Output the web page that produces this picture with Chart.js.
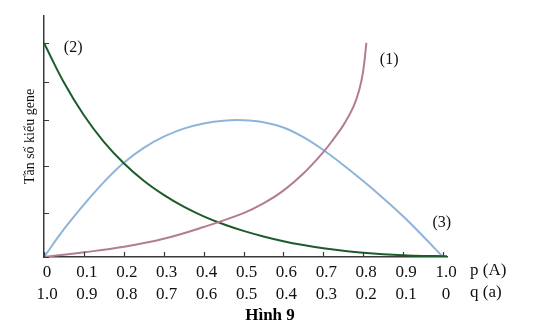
<!DOCTYPE html>
<html>
<head>
<meta charset="utf-8">
<script src="https://cdn.jsdelivr.net/npm/chart.js@4.4.1/dist/chart.umd.min.js"></script>
<style>
  html, body { margin: 0; padding: 0; background: #fff; }
  #wrap { width: 541px; height: 332px; }
</style>
</head>
<body>
<div id="wrap"><canvas id="c" width="541" height="332"></canvas></div>
<script>
// Allele frequency p (A) along x; genotype frequency along y
const pTicks = [0, 0.1, 0.2, 0.3, 0.4, 0.5, 0.6, 0.7, 0.8, 0.9, 1.0];
const pLabels = ['0', '0.1', '0.2', '0.3', '0.4', '0.5', '0.6', '0.7', '0.8', '0.9', '1.0'];
const qLabels = ['1.0', '0.9', '0.8', '0.7', '0.6', '0.5', '0.4', '0.3', '0.2', '0.1', '0'];
const yTicks = [0, 0.206, 0.425, 0.64, 0.818, 1.0];

// (1) rising curve
const pCurve1 = [0, 0.1, 0.2, 0.3, 0.4, 0.5, 0.55, 0.6, 0.65, 0.7, 0.725, 0.75, 0.775, 0.79, 0.8, 0.808];
const vCurve1 = [0, 0.022, 0.048, 0.085, 0.14, 0.205, 0.25, 0.31, 0.39, 0.49, 0.55, 0.615, 0.70, 0.78, 0.87, 1.0];

// (2) falling curve
const pCurve2 = [0, 0.05, 0.1, 0.15, 0.2, 0.25, 0.3, 0.35, 0.4, 0.45, 0.5, 0.55, 0.6, 0.65, 0.7, 0.75, 0.8, 0.85, 0.9, 0.95, 1.0, 1.01];
const vCurve2 = [1.0, 0.815, 0.662, 0.538, 0.438, 0.356, 0.29, 0.235, 0.19, 0.153, 0.122, 0.096, 0.074, 0.056, 0.041, 0.029, 0.02, 0.013, 0.008, 0.005, 0.004, 0.004];

// (3) arch
const pCurve3 = [0, 0.05, 0.1, 0.15, 0.2, 0.25, 0.3, 0.35, 0.4, 0.45, 0.5, 0.55, 0.6, 0.65, 0.7, 0.75, 0.8, 0.85, 0.9, 0.95, 1.0];
const vCurve3 = [0, 0.13, 0.245, 0.35, 0.44, 0.51, 0.562, 0.6, 0.624, 0.637, 0.639, 0.63, 0.605, 0.56, 0.50, 0.43, 0.355, 0.275, 0.19, 0.097, 0];

const curveNames = ['(1)', '(2)', '(3)'];
const nameAt = [[0.865, 0.92], [0.073, 0.977], [0.997, 0.159]];

const SERIF = '"Liberation Serif", "DejaVu Serif", serif';
const AXIS = '#3a3a3a';

const toPts = (xs, ys) => xs.map((x, i) => ({ x, y: ys[i] }));

const lineDs = (label, xs, ys, color) => ({
  label,
  data: toPts(xs, ys),
  borderColor: color,
  borderWidth: 2,
  pointRadius: 0,
  fill: false,
  tension: 0.4
});

// inward tick marks, curve names, row captions and the figure caption
const decor = {
  id: 'decor',
  afterDraw(chart) {
    const { ctx, chartArea } = chart;
    const xs = chart.scales.x, ys = chart.scales.y;
    ctx.save();
    ctx.strokeStyle = AXIS;
    ctx.lineWidth = 1.2;
    ctx.beginPath();
    pTicks.forEach(v => {
      const px = Math.round(xs.getPixelForValue(v)) + 0.5;
      ctx.moveTo(px, chartArea.bottom);
      ctx.lineTo(px, chartArea.bottom - 5);
    });
    yTicks.forEach(v => {
      const py = Math.round(ys.getPixelForValue(v)) + 0.5;
      ctx.moveTo(chartArea.left, py);
      ctx.lineTo(chartArea.left + 5, py);
    });
    ctx.stroke();

    ctx.fillStyle = '#111';
    ctx.font = '16px ' + SERIF;
    ctx.textAlign = 'center';
    ctx.textBaseline = 'middle';
    curveNames.forEach((t, i) => {
      ctx.fillText(t, xs.getPixelForValue(nameAt[i][0]), ys.getPixelForValue(nameAt[i][1]));
    });

    ctx.font = '17px ' + SERIF;
    ctx.textAlign = 'left';
    ctx.fillText('p (A)', 470, chartArea.bottom + 14);
    ctx.fillText('q (a)', 470, chartArea.bottom + 36);

    ctx.fillStyle = '#000';
    ctx.font = 'bold 17px ' + SERIF;
    ctx.textAlign = 'center';
    ctx.fillText('Hình 9', 270, chartArea.bottom + 59);
    ctx.restore();
  }
};

new Chart(document.getElementById('c'), {
  type: 'line',
  data: {
    datasets: [
      lineDs('(1)', pCurve1, vCurve1, '#b27d8e'),
      lineDs('(2)', pCurve2, vCurve2, '#1d5c2a'),
      lineDs('(3)', pCurve3, vCurve3, '#8fb4da')
    ]
  },
  options: {
    responsive: false,
    animation: false,
    layout: { padding: { top: 16, right: 94, left: 0, bottom: 0 } },
    plugins: {
      legend: { display: false },
      tooltip: { enabled: false },
      title: { display: false }
    },
    scales: {
      x: {
        type: 'linear',
        min: 0,
        max: 1.01,
        afterBuildTicks: s => { s.ticks = pTicks.map(v => ({ value: v })); },
        afterFit: s => { s.height = 75; },
        grid: { display: false, drawTicks: false },
        border: { display: true, color: AXIS, width: 1.5 },
        ticks: {
          autoSkip: false,
          maxRotation: 0,
          padding: 4,
          labelOffset: 3,
          color: '#111',
          font: { family: SERIF, size: 17, lineHeight: 1.3 },
          callback: (v, i) => [pLabels[i], qLabels[i]]
        }
      },
      y: {
        min: 0,
        max: 1.126,
        afterBuildTicks: s => { s.ticks = yTicks.map(v => ({ value: v })); },
        afterFit: s => { s.width = 44; },
        grid: { display: false, drawTicks: false },
        border: { display: true, color: AXIS, width: 1.5 },
        ticks: { display: false },
        title: {
          display: true,
          text: 'Tần số kiểu gene',
          color: '#111',
          font: { family: SERIF, size: 14, lineHeight: 1.2 },
          padding: { top: 22, bottom: 0 }
        }
      }
    }
  },
  plugins: [decor]
});
</script>
</body>
</html>
